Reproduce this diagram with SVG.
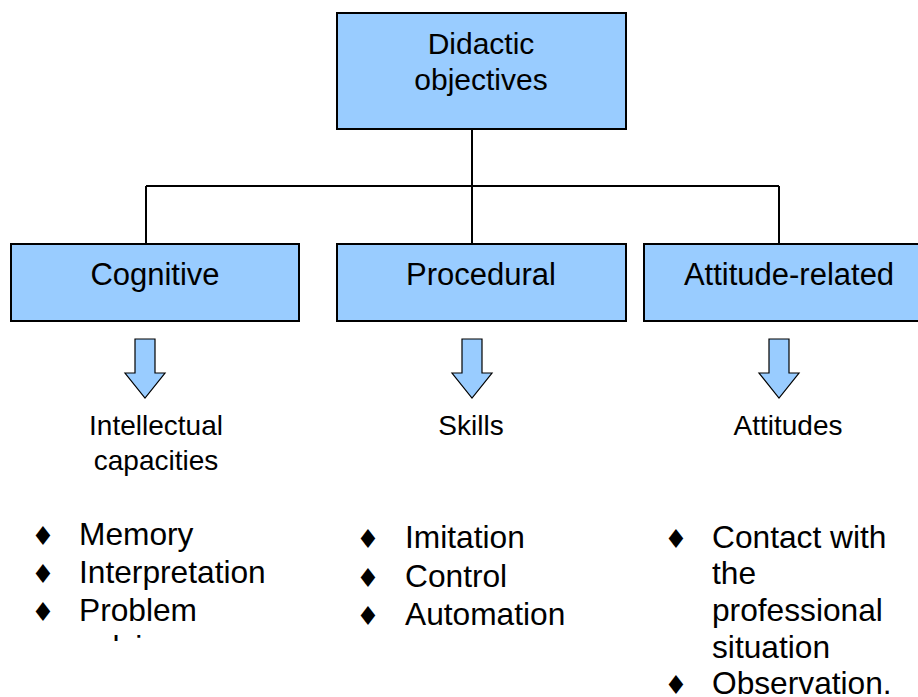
<svg xmlns="http://www.w3.org/2000/svg" width="918" height="697" viewBox="0 0 918 697">
<style>
.box{fill:#99CCFF;stroke:#000;stroke-width:2}
.ln{fill:none;stroke:#000;stroke-width:2}
.arr{fill:#99CCFF;stroke:#000;stroke-width:1.2}
.t{font-family:"Liberation Sans",Arial,sans-serif;fill:#000}
.title{font-size:30px}
.big{font-size:31px}
.li{font-size:31.7px}
.mid{font-size:28px}
.c{text-anchor:middle}
.d{font-family:"DejaVu Sans",sans-serif;font-size:26px;text-anchor:middle;fill:#000}
</style>
<defs>
<path id="barrow" d="M-10,0 H10 V34 H20 L0,59 L-20,34 H-10 Z"/>
<clipPath id="clipL"><rect x="0" y="500" width="320" height="141"/></clipPath>
</defs>
<g id="connectors">
<path class="ln" d="M472,129 V186 M146,186 H779 M146,186 V244 M472,186 V244 M779,186 V244"/>
</g>
<g id="top">
<rect class="box" x="337" y="13" width="289" height="116"/>
<text class="t title c" x="481" y="54">Didactic</text>
<text class="t title c" x="481" y="90">objectives</text>
</g>
<g id="cognitive">
<rect class="box" x="11" y="244" width="288" height="77"/>
<text class="t big c" x="155" y="285">Cognitive</text>
</g>
<g id="procedural">
<rect class="box" x="337" y="244" width="289" height="77"/>
<text class="t big c" x="481" y="285">Procedural</text>
</g>
<g id="attitude">
<rect class="box" x="644" y="244" width="290" height="77"/>
<text class="t big c" x="789" y="285">Attitude-related</text>
</g>
<g id="arrows">
<use href="#barrow" class="arr" x="145" y="339"/>
<use href="#barrow" class="arr" x="472" y="339"/>
<use href="#barrow" class="arr" x="779" y="339"/>
</g>
<g id="labels">
<text class="t mid c" x="156" y="435">Intellectual</text>
<text class="t mid c" x="156" y="470">capacities</text>
<text class="t mid c" x="471" y="435">Skills</text>
<text class="t mid c" x="788" y="435">Attitudes</text>
</g>
<g id="list-cognitive" clip-path="url(#clipL)">
<text class="d" x="43" y="545">♦</text><text class="t li" x="79" y="545">Memory</text>
<text class="d" x="43" y="583">♦</text><text class="t li" x="79" y="583">Interpretation</text>
<text class="d" x="43" y="621">♦</text><text class="t li" x="79" y="621">Problem</text>
<text class="t li" x="79" y="658">solving</text>
</g>
<g id="list-procedural">
<text class="d" x="368" y="548">♦</text><text class="t li" x="405" y="548">Imitation</text>
<text class="d" x="368" y="587">♦</text><text class="t li" x="405" y="587">Control</text>
<text class="d" x="368" y="625">♦</text><text class="t li" x="405" y="625">Automation</text>
</g>
<g id="list-attitude">
<text class="d" x="676" y="548">♦</text><text class="t li" x="712" y="548">Contact with</text>
<text class="t li" x="712" y="584">the</text>
<text class="t li" x="712" y="621">professional</text>
<text class="t li" x="712" y="658">situation</text>
<text class="d" x="676" y="694">♦</text><text class="t li" x="712" y="694">Observation.</text>
</g>
</svg>
